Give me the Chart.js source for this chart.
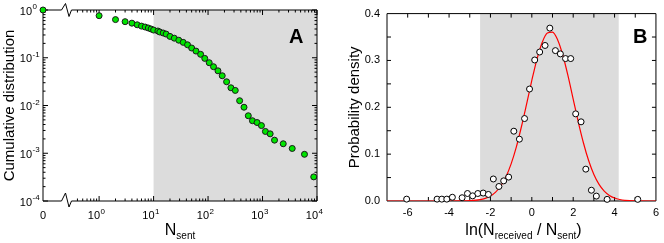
<!DOCTYPE html>
<html><head><meta charset="utf-8">
<script src="https://cdn.jsdelivr.net/npm/chart.js@4/dist/chart.umd.min.js"></script>
<style>
html,body{margin:0;padding:0;background:#fff;}
#wrap{position:relative;width:664px;height:243px;overflow:hidden;}
.box{position:absolute;top:0;width:332px;height:243px;}
#boxA{left:0;}
#boxB{left:332px;}
canvas{display:block;}
</style></head><body>
<div id="wrap">
<div class="box" id="boxA"><canvas id="cA" width="332" height="243"></canvas></div>
<div class="box" id="boxB"><canvas id="cB" width="332" height="243"></canvas></div>
</div>
<script>
// ---------- Panel A data ----------
const nSent = [0,1,2,3,4,5,6,7,8,9,10,12,13,15,17,20,24,29,35,42,50,60,73,87,105,126,152,182,219,263,316,380,457,548,653,794,955,1130,1380,1660,2400,3510,5890,8710];
const cumDist = [1,0.76,0.63,0.57,0.53,0.49,0.46,0.44,0.42,0.40,0.38,0.363,0.346,0.33,0.313,0.28,0.257,0.233,0.21,0.187,0.16,0.138,0.118,0.097,0.0787,0.0649,0.0533,0.042,0.0314,0.0235,0.0207,0.0126,0.0092,0.0061,0.0048,0.0044,0.0038,0.00286,0.00255,0.00188,0.00158,0.00126,0.00095,0.00032];
const xTickExpA = [0,1,2,3,4];
const yTickExpA = [0,-1,-2,-3,-4];
const shadeFromA = 10;

// ---------- Panel B data ----------
const lnRatio = [-6.05,-4.58,-4.35,-4.11,-3.84,-3.37,-3.11,-2.86,-2.61,-2.35,-2.10,-1.86,-1.59,-1.36,-1.12,-0.87,-0.60,-0.35,-0.11,0.14,0.38,0.64,0.87,1.14,1.38,1.63,1.88,2.12,2.38,2.61,2.88,3.12,3.64,5.12];
const density = [0.004,0.004,0.004,0.004,0.008,0.007,0.016,0.011,0.016,0.017,0.014,0.047,0.031,0.043,0.051,0.149,0.132,0.176,0.239,0.301,0.318,0.332,0.369,0.321,0.314,0.304,0.304,0.186,0.169,0.068,0.023,0.0105,0.0035,0.0035];
const fitX = [-7,-6,-5,-4,-3.5,-3,-2.5,-2.25,-2,-1.75,-1.5,-1.25,-1,-0.75,-0.5,-0.25,0,0.25,0.5,0.75,1,1.25,1.5,1.75,2,2.25,2.5,2.75,3,3.25,3.5,3.75,4,4.25,4.5,5,6];
const fitY = [0,0,0,0,0.0001,0.0006,0.0028,0.0056,0.0105,0.0189,0.0321,0.0518,0.0793,0.115,0.159,0.2075,0.2574,0.303,0.3385,0.3586,0.3605,0.3438,0.3111,0.267,0.2176,0.168,0.1233,0.0858,0.0566,0.0354,0.021,0.0119,0.0063,0.0032,0.0015,0.0003,0];
const shadeB = [-2.5, 4.2];

// ---------- common ----------
const FONT = "'Liberation Sans', Arial, Helvetica, sans-serif";
const SHADE = '#dcdcdc';
Chart.defaults.font.family = FONT;
Chart.defaults.color = '#000';

function runText(ctx, parts, x, baseY, align) {
  // parts: [text, size, dy, bold]
  let w = 0;
  parts.forEach(p => { ctx.font = (p[3] ? 'bold ' : '') + p[1] + 'px ' + FONT; w += ctx.measureText(p[0]).width; });
  let sx = align === 'center' ? x - w / 2 : (align === 'right' ? x - w : x);
  ctx.textAlign = 'left'; ctx.textBaseline = 'alphabetic';
  parts.forEach(p => {
    ctx.font = (p[3] ? 'bold ' : '') + p[1] + 'px ' + FONT;
    ctx.fillText(p[0], sx, baseY + p[2]);
    sx += ctx.measureText(p[0]).width;
  });
}

// ---------- Panel A ----------
const X0 = -1.03; // where "0" sits on the broken axis (in decades)
const tx = n => n === 0 ? X0 : Math.log10(n);
const ptsA = nSent.map((n, i) => ({ x: tx(n), y: cumDist[i] }));

const plugA = {
  id: 'plugA',
  beforeDatasetsDraw(chart) {
    const { ctx, chartArea: a, scales: { x, y } } = chart;
    ctx.save();
    const xs = x.getPixelForValue(Math.log10(shadeFromA));
    ctx.fillStyle = SHADE;
    ctx.fillRect(xs, a.top, a.right - xs, a.bottom - a.top);
    ctx.strokeStyle = '#000'; ctx.lineWidth = 1;
    ctx.beginPath();
    ctx.moveTo(a.left, a.top); ctx.lineTo(a.left, a.bottom);
    ctx.moveTo(a.right, a.top); ctx.lineTo(a.right, a.bottom);
    const b0 = a.left + 18.5;
    // top line with break
    ctx.moveTo(a.left, a.top); ctx.lineTo(b0, a.top);
    ctx.lineTo(b0 + 4, a.top - 6.5); ctx.lineTo(b0 + 7.5, a.top + 6.5); ctx.lineTo(b0 + 10, a.top);
    ctx.lineTo(a.right, a.top);
    // bottom line with break
    ctx.moveTo(a.left, a.bottom); ctx.lineTo(b0, a.bottom);
    ctx.lineTo(b0 + 4, a.bottom - 8); ctx.lineTo(b0 + 7.5, a.bottom + 6); ctx.lineTo(b0 + 10, a.bottom);
    ctx.lineTo(a.right, a.bottom);
    // x ticks
    const xt = (v, len) => {
      const p = x.getPixelForValue(v);
      ctx.moveTo(p, a.bottom); ctx.lineTo(p, a.bottom - len);
      ctx.moveTo(p, a.top); ctx.lineTo(p, a.top + len);
    };
    xTickExpA.forEach(e => xt(e, 5));
    for (let m = 4; m <= 9; m++) xt(Math.log10(m / 10), 2.5);
    for (let e = 0; e < 4; e++) for (let m = 2; m <= 9; m++) xt(Math.log10(m * Math.pow(10, e)), 2.5);
    // y ticks
    const yt = (v, len) => {
      const p = y.getPixelForValue(v);
      ctx.moveTo(a.left, p); ctx.lineTo(a.left + len, p);
      ctx.moveTo(a.right, p); ctx.lineTo(a.right - len, p);
    };
    yTickExpA.forEach(e => yt(Math.pow(10, e), 5));
    for (let e = -4; e < 0; e++) for (let m = 2; m <= 9; m++) yt(m * Math.pow(10, e), 2.5);
    ctx.stroke();
    ctx.restore();
  },
  afterDraw(chart) {
    const { ctx, chartArea: a, scales: { x, y } } = chart;
    ctx.save();
    ctx.fillStyle = '#000';
    // y tick labels
    yTickExpA.forEach(e => {
      const p = y.getPixelForValue(Math.pow(10, e));
      runText(ctx, [['10', 11, 0]], 32, p + 4.5, 'right');
      runText(ctx, [[String(e).replace('-', '-'), 8, 0]], 32.5, p - 1, 'left');
    });
    // x tick labels
    runText(ctx, [['0', 11, 0]], x.getPixelForValue(X0), 219, 'center');
    xTickExpA.forEach(e => {
      const p = x.getPixelForValue(e);
      runText(ctx, [['10', 11, 0]], p + 1, 219, 'right');
      runText(ctx, [[String(e), 8, 0]], p + 1.5, 213.5, 'left');
    });
    // axis titles
    runText(ctx, [['N', 16, 0], ['sent', 10, 4]], (a.left + a.right) / 2, 235, 'center');
    ctx.save();
    ctx.translate(9.5, (a.top + a.bottom) / 2);
    ctx.rotate(-Math.PI / 2);
    ctx.font = '15px ' + FONT; ctx.textAlign = 'center'; ctx.textBaseline = 'middle';
    ctx.fillText('Cumulative distribution', 0, 0);
    ctx.restore();
    // panel letter
    runText(ctx, [['A', 20, 0, true]], 289, 43, 'left');
    ctx.restore();
  }
};

new Chart(document.getElementById('cA'), {
  type: 'scatter',
  data: { datasets: [{
    data: ptsA, pointRadius: 3, pointHoverRadius: 3,
    pointBackgroundColor: '#00e400', pointBorderColor: '#1a1a1a', pointBorderWidth: 1, clip: false
  }] },
  options: {
    responsive: false, animation: false, devicePixelRatio: 1, events: [],
    layout: { padding: { top: 10, right: 15, left: 0, bottom: 0 } },
    plugins: { legend: { display: false }, tooltip: { enabled: false } },
    scales: {
      x: { type: 'linear', min: X0, max: 4, grid: { display: false, drawTicks: false }, border: { display: false },
           ticks: { display: false }, afterFit(s) { s.height = 42; } },
      y: { type: 'logarithmic', min: 1e-4, max: 1, grid: { display: false, drawTicks: false }, border: { display: false },
           ticks: { display: false }, afterFit(s) { s.width = 43; } }
    }
  },
  plugins: [plugA]
});

// ---------- Panel B ----------
const ptsB = lnRatio.map((v, i) => ({ x: v, y: density[i] }));
const fitPts = fitX.map((v, i) => ({ x: v, y: fitY[i] }));

const plugB = {
  id: 'plugB',
  beforeDatasetsDraw(chart) {
    const { ctx, chartArea: a, scales: { x, y } } = chart;
    ctx.save();
    const x1 = x.getPixelForValue(shadeB[0]), x2 = x.getPixelForValue(shadeB[1]);
    ctx.fillStyle = SHADE;
    ctx.fillRect(x1, a.top, x2 - x1, a.bottom - a.top);
    ctx.strokeStyle = '#000'; ctx.lineWidth = 1;
    ctx.beginPath();
    ctx.rect(a.left, a.top, a.right - a.left, a.bottom - a.top);
    for (let v = -6; v <= 5; v++) {
      const p = x.getPixelForValue(v);
      ctx.moveTo(p, a.bottom); ctx.lineTo(p, a.bottom - 4);
      ctx.moveTo(p, a.top); ctx.lineTo(p, a.top + 4);
    }
    for (let k = 1; k <= 7; k++) {
      const p = y.getPixelForValue(k * 0.05);
      ctx.moveTo(a.left, p); ctx.lineTo(a.left + 4, p);
      ctx.moveTo(a.right, p); ctx.lineTo(a.right - 4, p);
    }
    ctx.stroke();
    ctx.restore();
  },
  afterDraw(chart) {
    const { ctx, chartArea: a } = chart;
    ctx.save();
    ctx.fillStyle = '#000';
    runText(ctx, [['ln(N', 16, 0], ['received', 10, 4], [' / N', 16, 0], ['sent', 10, 4], [')', 16, 0]],
            (a.left + a.right) / 2 + 2, 235, 'center');
    ctx.save();
    ctx.translate(23, (a.top + a.bottom) / 2);
    ctx.rotate(-Math.PI / 2);
    ctx.font = '15px ' + FONT; ctx.textAlign = 'center'; ctx.textBaseline = 'middle';
    ctx.fillText('Probability density', 0, 0);
    ctx.restore();
    runText(ctx, [['B', 20, 0, true]], 301, 43, 'left');
    ctx.restore();
  }
};

new Chart(document.getElementById('cB'), {
  type: 'scatter',
  data: { datasets: [
    { type: 'line', data: fitPts, borderColor: '#ff0000', borderWidth: 1.2, pointRadius: 0, fill: false,
      cubicInterpolationMode: 'monotone', order: 2 },
    { data: ptsB, pointRadius: 3, pointHoverRadius: 3, pointBackgroundColor: '#ffffff',
      pointBorderColor: '#000', pointBorderWidth: 1, clip: false, order: 1 }
  ] },
  options: {
    responsive: false, animation: false, devicePixelRatio: 1, events: [],
    layout: { padding: { top: 10, right: 4, left: 0, bottom: 0 } },
    plugins: { legend: { display: false }, tooltip: { enabled: false } },
    scales: {
      x: { type: 'linear', min: -7, max: 6, grid: { display: false, drawTicks: false }, border: { display: false },
           ticks: { stepSize: 1, autoSkip: false, maxRotation: 0, padding: 5, font: { size: 11 }, color: '#000',
                    callback: v => (Math.round(v) % 2 === 0 ? String(v) : '') },
           afterFit(s) { s.height = 42; } },
      y: { type: 'linear', min: 0, max: 0.4, grid: { display: false, drawTicks: false }, border: { display: false },
           ticks: { stepSize: 0.05, autoSkip: false, padding: 7, font: { size: 11 }, color: '#000',
                    callback: v => { const r = Math.round(v * 100); return r % 10 === 0 ? (r / 100).toFixed(1) : ''; } },
           afterFit(s) { s.width = 55; } }
    }
  },
  plugins: [plugB]
});
</script>
</body></html>
